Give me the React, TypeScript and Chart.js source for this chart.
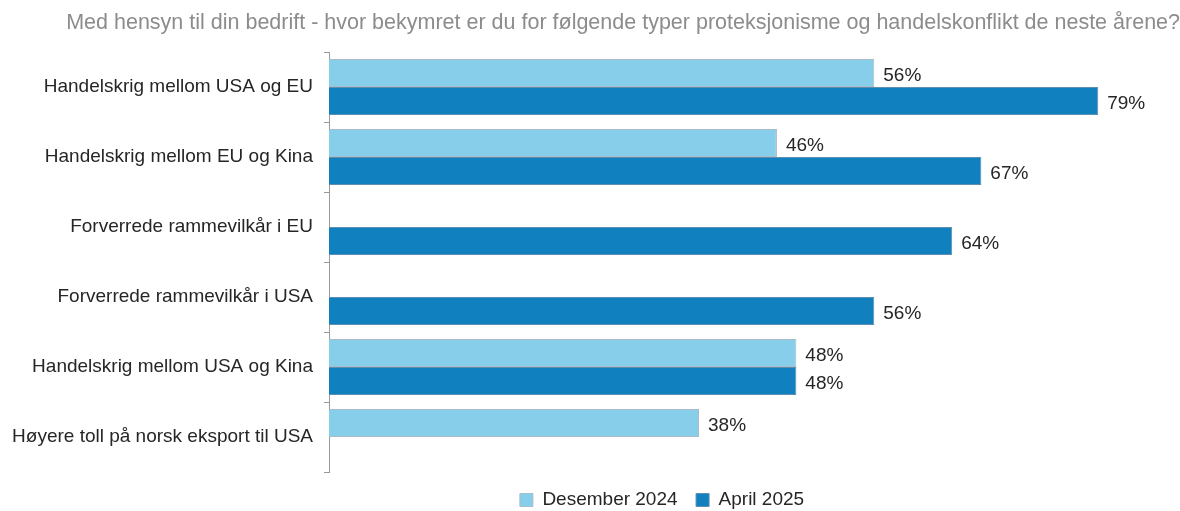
import React, { useEffect, useRef } from "react";
import { Chart, registerables } from "chart.js";

Chart.register(...registerables);

const categories = [
  "Handelskrig mellom USA og EU",
  "Handelskrig mellom EU og Kina",
  "Forverrede rammevilkår i EU",
  "Forverrede rammevilkår i USA",
  "Handelskrig mellom USA og Kina",
  "Høyere toll på norsk eksport til USA",
];
const desember2024: (number | null)[] = [56, 46, null, null, 48, 38];
const april2025: (number | null)[] = [79, 67, 64, 56, 48, null];
const seriesNames = ["Desember 2024", "April 2025"];
const titleText =
  "Med hensyn til din bedrift - hvor bekymret er du for følgende typer proteksjonisme og handelskonflikt de neste årene?";

const FONT = "'Liberation Sans', Arial, sans-serif";

const valueLabels = {
  id: "valueLabels",
  afterDatasetsDraw(chart: any) {
    const ctx = chart.ctx;
    ctx.save();
    ctx.font = `19px ${FONT}`;
    ctx.fillStyle = "#262626";
    ctx.textBaseline = "middle";
    ctx.textAlign = "left";
    chart.data.datasets.forEach((ds: any, di: number) => {
      const meta = chart.getDatasetMeta(di);
      meta.data.forEach((el: any, i: number) => {
        const v = ds.data[i];
        if (v === null || v === undefined) return;
        ctx.fillText(`${v}%`, el.x + 9, el.y + 3);
      });
    });
    ctx.restore();
  },
};

const legendShift = {
  id: "legendShift",
  afterLayout(chart: any) {
    const lg = chart.legend;
    if (lg) {
      lg.left += 72;
      lg.right += 72;
    }
  },
};

export default function App() {
  const ref = useRef<HTMLCanvasElement | null>(null);
  useEffect(() => {
    if (!ref.current) return;
    const chart = new Chart(ref.current, {
      type: "bar",
      data: {
        labels: categories,
        datasets: [
          {
            label: seriesNames[0],
            data: desember2024,
            backgroundColor: "#87CEEB",
            borderColor: "#A9BCC8",
            borderWidth: 1,
            categoryPercentage: 0.8,
            barPercentage: 1.0,
          },
          {
            label: seriesNames[1],
            data: april2025,
            backgroundColor: "#1080BF",
            borderColor: "#5E8FB0",
            borderWidth: 1,
            categoryPercentage: 0.8,
            barPercentage: 1.0,
          },
        ],
      },
      options: {
        indexAxis: "y",
        responsive: false,
        animation: false,
        layout: { padding: { top: 0, left: 0, right: 0, bottom: -8.5 } },
        scales: {
          x: {
            display: false,
            min: 0,
            max: 87.4,
          },
          y: {
            grid: {
              drawOnChartArea: false,
              drawTicks: true,
              tickLength: 5,
              color: "#999999",
            },
            border: { display: true, color: "#999999", width: 1 },
            ticks: {
              color: "#262626",
              font: { family: FONT, size: 19 },
              padding: 11,
            },
            afterFit(scale: any) {
              scale.width = 329;
            },
          },
        },
        plugins: {
          title: {
            display: true,
            text: titleText,
            align: "end",
            color: "#8C8C8C",
            font: { family: FONT, size: 21.5, weight: "normal" },
            padding: { top: 10, bottom: 16.2 },
          },
          legend: {
            position: "bottom",
            labels: {
              boxWidth: 13,
              boxHeight: 13,
              padding: 18.5,
              color: "#262626",
              font: { family: FONT, size: 19 },
            },
          },
          tooltip: { enabled: false },
        },
      },
      plugins: [valueLabels, legendShift],
    } as any);
    return () => chart.destroy();
  }, []);
  return (
    <div style={{ position: "absolute", left: 0, top: 0, width: 1180, height: 511, background: "#fff" }}>
      <canvas ref={ref} width={1180} height={511} />
    </div>
  );
}
